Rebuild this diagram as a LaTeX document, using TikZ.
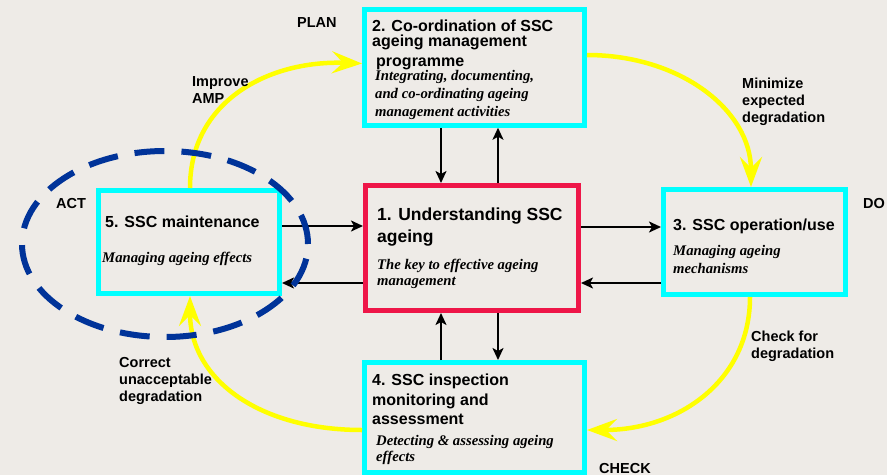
\documentclass[tikz,border=0pt]{standalone}
\usepackage{fontspec}
\setmainfont{Liberation Serif}
\setsansfont{Liberation Sans}
\usetikzlibrary{arrows.meta}
\definecolor{bgc}{RGB}{238,235,231}
\definecolor{cyanc}{RGB}{0,255,255}
\definecolor{redc}{RGB}{238,22,72}
\definecolor{bluec}{RGB}{0,51,153}
\definecolor{yellowc}{RGB}{255,255,0}
\tikzset{
  cbox/.style={draw=cyanc, line width=5pt, rectangle, inner sep=0pt, outer sep=2.5pt},
  rbox/.style={cbox, draw=redc},
  ttl/.style 2 args={font={\sffamily\bfseries\fontsize{#1}{#2}\selectfont\lineskiplimit=-20pt}, align=left, anchor=base west, inner sep=0pt},
  sub/.style={font={\rmfamily\bfseries\itshape\fontsize{14.7}{#1}\selectfont\lineskiplimit=-20pt}, align=left, anchor=base west, inner sep=0pt},
  lbl/.style={font={\sffamily\bfseries\fontsize{14.5}{17}\selectfont\lineskiplimit=-20pt}, align=left, anchor=base west, inner sep=0pt},
  blk/.style={line width=2pt, -{Stealth[length=12pt,width=11pt,inset=3pt]}},
  ylw/.style={draw=yellowc, line width=4.5pt, -{Stealth[length=30pt,width=22pt,inset=11pt]}},
  act/.style={draw=bluec, line width=6pt, dash pattern=on 30pt off 17pt},
}
\begin{document}
\begin{tikzpicture}[x=1pt,y=-1pt]
\useasboundingbox (0,0) rectangle (887,475);
\fill[bgc] (0,0) rectangle (887,475);

% boxes
\node[cbox, minimum width=220pt, minimum height=115.5pt] (b2) at (474.5,67.5) {};
\node[cbox, minimum width=181pt, minimum height=103pt] (b5) at (189,242) {};
\node[rbox, minimum width=213pt, minimum height=125pt] (b1) at (472,248) {};
\node[cbox, minimum width=182pt, minimum height=105pt] (b3) at (754.5,242) {};
\node[cbox, minimum width=220pt, minimum height=109.5pt] (b4) at (474.5,417.25) {};

% box texts (anchor base = baseline of the last line)
\node[ttl={16}{15}] (t2) at (372,66.7) {2. Co-ordination of SSC\\ageing management\\[5pt]\hspace*{4pt}programme};
\node[sub=18] (s2) at (375,116) {Integrating, documenting,\\and co-ordinating ageing\\management activities};
\node[ttl={17.5}{22}] (t1) at (377,242) {1. Understanding SSC\\ageing};
\node[sub=16] (s1) at (377,285) {The key to effective ageing\\management};
\node[ttl={16}{19}] (t5) at (105,227) {5. SSC maintenance};
\node[sub=16] (s5) at (102,262) {Managing ageing effects};
\node[ttl={16}{19}] (t3) at (673,230) {3. SSC operation/use};
\node[sub=18] (s3) at (673,273) {Managing ageing\\mechanisms};
\node[ttl={16}{19.3}] (t4) at (372,424.3) {4. SSC inspection\\monitoring and\\assessment};
\node[sub=16.7] (s4) at (376,461.7) {Detecting \& assessing ageing\\effects};

% black connectors
\draw[blk] ([xshift=-33.5pt]b2.south) -- ([xshift=-31pt]b1.north);
\draw[blk] ([xshift=26pt]b1.north) -- ([xshift=23.5pt]b2.south);
\draw[blk] ([xshift=-33.5pt]b4.north) -- ([xshift=-31pt]b1.south);
\draw[blk] ([xshift=26pt]b1.south) -- ([xshift=23.5pt]b4.north);
\draw[blk] ([yshift=16pt]b5.east) -- ([yshift=22pt]b1.west);
\draw[blk] ([yshift=-35pt]b1.west) -- ([yshift=-41pt]b5.east);
\draw[blk] ([yshift=21pt]b1.east) -- ([yshift=15pt]b3.west);
\draw[blk] ([yshift=-41pt]b3.west) -- ([yshift=-35pt]b1.east);

% yellow cycle
\draw[ylw] ([xshift=1pt]b5.north) .. controls (190,100) and (270,60) .. ([yshift=4pt]b2.west);
\draw[ylw] ([yshift=12.5pt]b2.east) .. controls (680,55) and (751,110) .. ([xshift=-3.5pt]b3.north);
\draw[ylw] ([xshift=-4.5pt]b3.south) .. controls (750,380) and (680,430) .. ([yshift=-12.75pt]b4.east);
\draw[ylw] ([yshift=-12.75pt]b4.west) .. controls (260,430) and (190,380) .. ([xshift=1pt]b5.south);

% labels
\node[lbl] (plan) at (297,27) {PLAN};
\node[lbl] (improve) at (192,103) {Improve\\AMP};
\node[lbl] (minimize) at (742,122) {Minimize\\expected\\degradation};
\node[lbl] (actl) at (56,208) {ACT};
\node[lbl] (dol) at (863,208) {DO};
\node[lbl] (checkfor) at (751,358) {Check for\\degradation};
\node[lbl] (correct) at (119,401) {Correct\\unacceptable\\degradation};
\node[lbl] (checkl) at (599,473) {CHECK};

% ACT ellipse
\draw[act] (165,244) ellipse [x radius=143pt, y radius=93pt];
\end{tikzpicture}
\end{document}
